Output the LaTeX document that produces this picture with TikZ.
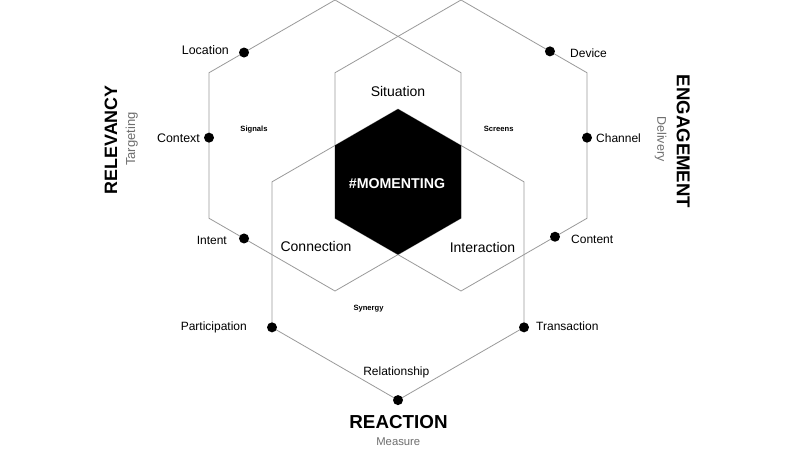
\documentclass[tikz,border=0pt]{standalone}
\usepackage{fontspec}
\setmainfont{Liberation Sans}
\usetikzlibrary{calc}
\definecolor{linegray}{HTML}{9A9A9A}
\definecolor{subgray}{HTML}{6E6E6E}
\begin{document}
\begin{tikzpicture}[x=1pt,y=-1pt,
  hexline/.style={draw=linegray,line width=0.8pt,line join=miter},
  dot/.style={circle,fill=black,inner sep=0pt,minimum size=10pt},
  lbl/.style={inner sep=0pt,text height=0.716em,text depth=0pt,yshift=-1.5pt},
  small/.style={lbl,font=\fontsize{12}{12}\selectfont},
  mid/.style={lbl,font=\fontsize{14}{14}\selectfont},
  tiny/.style={lbl,font=\bfseries\fontsize{7.6}{7.6}\selectfont},
  title/.style={lbl,font=\bfseries\fontsize{18.8}{18.8}\selectfont},
  sub/.style={lbl,text=subgray},
  vert/.style={yshift=0pt}]
\useasboundingbox (0,0) rectangle (800,450);
\fill[white] (0,0) rectangle (800,450);
% left hexagon
\coordinate (L1) at (335,0);
\coordinate (L2) at (461,72.75);
\coordinate (L3) at (461,218.25);
\coordinate (L4) at (335,291);
\coordinate (L5) at (209,218.25);
\coordinate (L6) at (209,72.75);
% right hexagon
\coordinate (R1) at (461,0);
\coordinate (R2) at (587,72.75);
\coordinate (R3) at (587,218.25);
\coordinate (R4) at (461,291);
\coordinate (R5) at (335,218.25);
\coordinate (R6) at (335,72.75);
% bottom hexagon
\coordinate (B1) at (398,109.1);
\coordinate (B2) at (524,181.85);
\coordinate (B3) at (524,327.35);
\coordinate (B4) at (398,400.1);
\coordinate (B5) at (272,327.35);
\coordinate (B6) at (272,181.85);
% centre hexagon
\coordinate (M1) at (398,109.1);
\coordinate (M2) at (461,145.5);
\coordinate (M3) at (461,218.25);
\coordinate (M4) at (398,254.6);
\coordinate (M5) at (335,218.25);
\coordinate (M6) at (335,145.5);

\draw[hexline] (L1) -- (L2) -- (L3) -- (L4) -- (L5) -- (L6) -- cycle;
\draw[hexline] (R1) -- (R2) -- (R3) -- (R4) -- (R5) -- (R6) -- cycle;
\draw[hexline] (B1) -- (B2) -- (B3) -- (B4) -- (B5) -- (B6) -- cycle;
\fill[black] (M1) -- (M2) -- (M3) -- (M4) -- (M5) -- (M6) -- cycle;

% dots
\node[dot] (loc) at ($(L6)!0.278!(L1)$) {};
\node[dot] (ctx) at ($(L6)!0.446!(L5)$) {};
\node[dot] (int) at ($(L5)!0.278!(L4)$) {};
\node[dot] (dev) at ($(R1)!0.706!(R2)$) {};
\node[dot] (chn) at ($(R2)!0.446!(R3)$) {};
\node[dot] (cnt) at ($(R3)!0.254!(R4)$) {};
\node[dot] (par) at (B5) {};
\node[dot] (tra) at (B3) {};
\node[dot] (rel) at (B4) {};

% labels
\node[small,anchor=east,font=\fontsize{12.4}{12.4}\selectfont] (locL) at (229,49) {Location};
\node[small,anchor=east,font=\fontsize{12.4}{12.4}\selectfont] (ctxL) at (200,137.7) {Context};
\node[small,anchor=east] (intL) at (227,239.3) {Intent};
\node[small,anchor=west] (devL) at (570,52.7) {Device};
\node[small,anchor=west] (chnL) at (596,137.7) {Channel};
\node[small,anchor=west] (cntL) at (571,238.3) {Content};
\node[small,anchor=east] (parL) at (247,325.5) {Participation};
\node[small,anchor=west] (traL) at (536,325.5) {Transaction};
\node[small] (relL) at (396.3,370) {Relationship};

\node[mid] (sit) at (398,91) {Situation};
\node[mid] (con) at (316,246.7) {Connection};
\node[mid] (inter) at (482.5,247) {Interaction};
\node[lbl,text=white,font=\bfseries\fontsize{14.2}{14.2}\selectfont] (mom) at (397,183.3) {\#MOMENTING};

\node[tiny] (sig) at (254,126.3) {Signals};
\node[tiny] (scr) at (498.7,126) {Screens};
\node[tiny] (syn) at (368.5,305.5) {Synergy};

\node[title] (reac) at (398.5,423) {REACTION};
\node[sub,font=\fontsize{11.3}{11.3}\selectfont] (meas) at (398.3,440.5) {Measure};
\node[title,vert,rotate=90,font=\bfseries\fontsize{17.9}{17.9}\selectfont] (relv) at (113.5,138.3) {RELEVANCY};
\node[sub,vert,rotate=90,font=\fontsize{13}{13}\selectfont] (targ) at (131.5,137.7) {Targeting};
\node[title,vert,rotate=-90,font=\bfseries\fontsize{18.6}{18.6}\selectfont] (eng) at (680.5,140) {ENGAGEMENT};
\node[sub,vert,rotate=-90,font=\fontsize{12.5}{12.5}\selectfont] (deli) at (661,137.5) {Delivery};
\end{tikzpicture}
\end{document}
